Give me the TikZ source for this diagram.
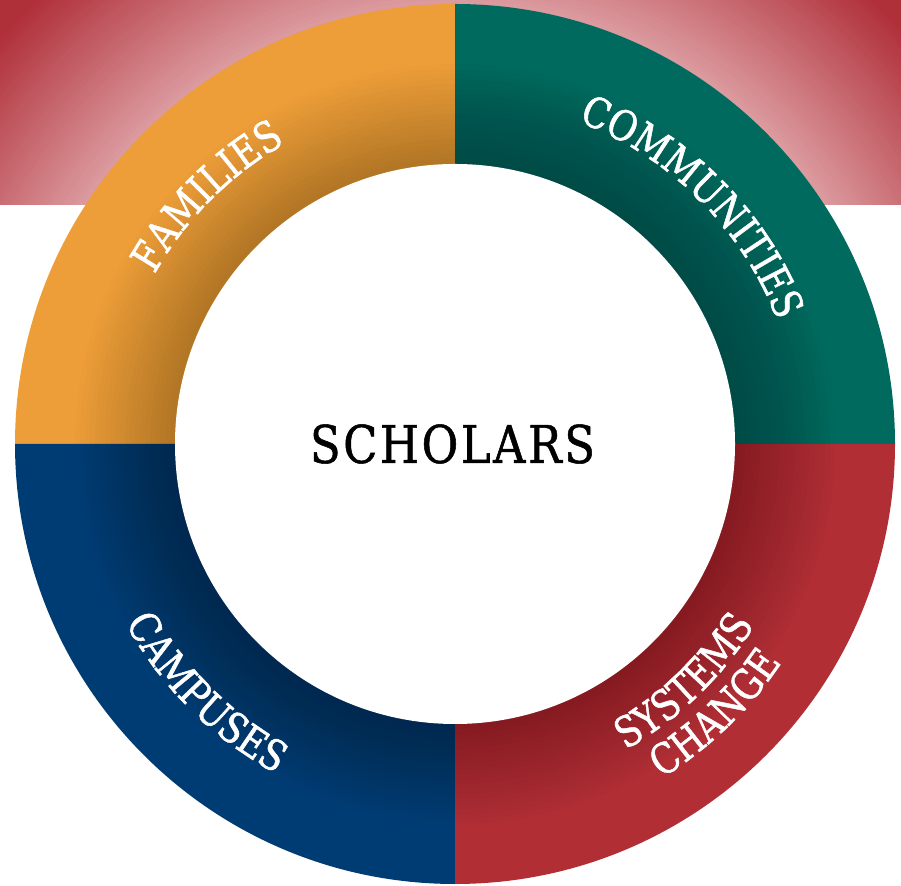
\documentclass[tikz,border=0pt]{standalone}
\usepackage{fontspec}
\usetikzlibrary{decorations.text}
\newfontfamily\slab{DejaVu Serif}[FakeStretch=0.84, LetterSpace=11, FakeBold=1.2]
\newfontfamily\slabc{DejaVu Serif}[FakeStretch=0.86, LetterSpace=5, FakeBold=1]
\newcommand\ringfont{\slab\fontsize{42}{46}\selectfont}
\newcommand\centerfont{\slabc\fontsize{52}{60}\selectfont}
\definecolor{bandred}{HTML}{B0303A}
\definecolor{glowpink}{HTML}{DC9CA0}
\definecolor{famorange}{HTML}{EE9E39}
\definecolor{comteal}{HTML}{006A5F}
\definecolor{campblue}{HTML}{003C74}
\definecolor{sysred}{HTML}{B12E35}
\begin{document}
\begin{tikzpicture}[x=1pt,y=1pt,
  ringtext/.style={decorate, decoration={text along path, text align=center, text color=white, text={#1}}}]
\useasboundingbox (0,0) rectangle (901,885);
\fill[white] (0,0) rectangle (901,885);
\coordinate (C) at (455,441);
% red band with glow around the ring
\begin{scope}
  \clip (0,680) rectangle (901,885);
  \fill[bandred] (0,680) rectangle (901,885);
  \foreach \r in {664,660,...,440} {
    \pgfmathtruncatemacro\p{min(100,max(0,(\r-440)/1.7))}
    \fill[bandred!\p!glowpink] (C) circle (\r pt);
  }
\end{scope}
% quadrants
\fill[famorange] (C) -- ++(90:440pt) arc (90:180:440pt) -- cycle;
\fill[comteal] (C) -- ++(0:440pt) arc (0:90:440pt) -- cycle;
\fill[campblue] (C) -- ++(180:440pt) arc (180:270:440pt) -- cycle;
\fill[sysred] (C) -- ++(270:440pt) arc (270:360:440pt) -- cycle;
% inner shadow
\foreach \r in {285,290,...,380} {
  \fill[black,opacity=0.011] (C) circle (\r pt);
}
% centre
\fill[white] (C) circle (280pt);
\node[font=\centerfont, inner sep=0pt] (scholars) at (452.5,441) {SCHOLARS};
% ring labels
\path[ringtext={|\ringfont|FAMILIES}] (C) ++(175:345pt) arc (175:95:345pt);
\path[ringtext={|\ringfont|COMMUNITIES}] (C) ++(88:345pt) arc (88:2:345pt);
\path[ringtext={|\ringfont|CAMPUSES}] (C) ++(185:375pt) arc (185:265:375pt);
\path[ringtext={|\ringfont|SYSTEMS}] (C) ++(274:350pt) arc (274:354:350pt);
\path[ringtext={|\ringfont|CHANGE}] (C) ++(274:393pt) arc (274:354:393pt);
\end{tikzpicture}
\end{document}
